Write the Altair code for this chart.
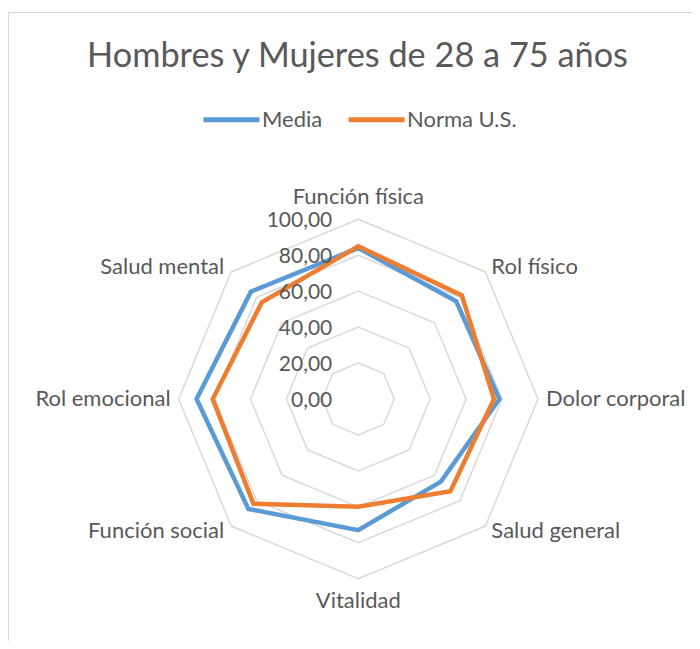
import altair as alt
import pandas as pd

# ---------------- data ----------------
title_text = "Hombres y Mujeres de 28 a 75 años"
categories = ["Función física", "Rol físico", "Dolor corporal", "Salud general",
              "Vitalidad", "Función social", "Rol emocional", "Salud mental"]
media = [84.0, 77.0, 78.5, 65.0, 73.0, 86.5, 90.0, 84.5]
norma = [85.0, 81.5, 75.5, 72.5, 60.0, 82.5, 81.0, 76.0]
series_names = ["Media", "Norma U.S."]
series_colors = ["#5B9BD5", "#ED7D31"]
ring_levels = [20, 40, 60, 80, 100]
tick_values = [0, 20, 40, 60, 80, 100]
tick_labels = ["0,00", "20,00", "40,00", "60,00", "80,00", "100,00"]

# ---------------- layout ----------------
PADL = 1
W, H = 683, 629          # plot area (view) size
CX, CY = 349.3, 387.0    # radar centre inside the view, px
U = 1.797                # px per value unit
FONT = "Lato"
FS = 22
TXT = "#595959"
GRID = "#D9D9D9"
N = len(categories)

x_dom = [-CX / U, (W - CX) / U]
y_dom = [-(H - CY) / U, CY / U]
xs = alt.Scale(domain=x_dom, nice=False, zero=False)
ys = alt.Scale(domain=y_dom, nice=False, zero=False)

series_df = pd.DataFrame(
    [{"series": s, "idx": i, "cat": c, "value": v}
     for s, vals in zip(series_names, [media, norma])
     for i, (c, v) in enumerate(zip(categories, vals))]
)
ring_df = pd.DataFrame([{"level": L, "idx": i} for L in ring_levels for i in range(N)])
tick_df = pd.DataFrame({"value": tick_values, "label": tick_labels})
cat_df = pd.DataFrame({"idx": list(range(N)), "cat": categories})
frame_df = pd.DataFrame({"k": [0]})

ang = f"datum.idx * 2 * PI / {N}"

# rings
rings = alt.Chart(ring_df).transform_calculate(
    a=ang
).transform_calculate(
    px="datum.level * sin(datum.a)", py="datum.level * cos(datum.a)"
).mark_line(interpolate="linear-closed", color=GRID, strokeWidth=1.5).encode(
    x=alt.X("px:Q", scale=xs, axis=None),
    y=alt.Y("py:Q", scale=ys, axis=None),
    detail="level:O",
    order="idx:Q",
)

color = alt.Color(
    "series:N",
    scale=alt.Scale(domain=series_names, range=series_colors),
    legend=alt.Legend(
        title=None, orient="none", legendX=192, legendY=77, direction="horizontal",
        symbolType="stroke", symbolSize=56 * 56, symbolStrokeWidth=5,
        labelFont=FONT, labelFontSize=FS, labelColor=TXT, labelOffset=0,
        columnPadding=15, padding=0,
    ),
)


def series_layer(name):
    return alt.Chart(series_df).transform_filter(
        alt.datum.series == name
    ).transform_calculate(
        a=ang
    ).transform_calculate(
        px="datum.value * sin(datum.a)", py="datum.value * cos(datum.a)"
    ).mark_line(interpolate="linear-closed", strokeWidth=4.5).encode(
        x=alt.X("px:Q", scale=xs, axis=None),
        y=alt.Y("py:Q", scale=ys, axis=None),
        color=color,
        order="idx:Q",
    )


ticks = alt.Chart(tick_df).transform_calculate(
    px="0", py="datum.value"
).mark_text(align="right", baseline="middle", dx=-26, dy=2, font=FONT,
            fontSize=21, color=TXT).encode(
    x=alt.X("px:Q", scale=xs, axis=None),
    y=alt.Y("py:Q", scale=ys, axis=None),
    text="label:N",
)


def cat_layer(idx_list, align, off_side, off_diag, off_tb):
    return alt.Chart(cat_df).transform_filter(
        alt.FieldOneOfPredicate(field="idx", oneOf=idx_list)
    ).transform_calculate(
        a=ang
    ).transform_calculate(
        s="sin(datum.a)", c="cos(datum.a)"
    ).transform_calculate(
        px=f"100 * datum.s + (abs(datum.s) < 0.1 ? 0 : (abs(datum.c) < 0.1 ? {off_side} : {off_diag}) * (datum.s > 0 ? 1 : -1)) / {U}",
        py=f"100 * datum.c + (abs(datum.c) < 0.1 ? 0 : (abs(datum.s) < 0.1 ? {off_tb} : 4.8) * (datum.c > 0 ? 1 : -1)) / {U}",
    ).mark_text(align=align, baseline="middle", font=FONT, fontSize=FS,
                color=TXT).encode(
        x=alt.X("px:Q", scale=xs, axis=None),
        y=alt.Y("py:Q", scale=ys, axis=None),
        text="cat:N",
    )


labels_r = cat_layer([1, 2, 3], "left", 8, 6, 22)
labels_l = cat_layer([5, 6, 7], "right", 8, 7, 22)
labels_c = cat_layer([0, 4], "center", 8, 6, 22)

frame_left = alt.Chart(frame_df).mark_rule(color=GRID, strokeWidth=1).encode(
    x=alt.value(-0.5), y=alt.value(0), y2=alt.value(H + 20)
)
frame_top = alt.Chart(frame_df).mark_rule(color=GRID, strokeWidth=1).encode(
    x=alt.value(-0.5), x2=alt.value(W + 20), y=alt.value(0.5)
)

chart = alt.layer(
    frame_left, frame_top, rings, series_layer("Media"), series_layer("Norma U.S."),
    ticks, labels_r, labels_l, labels_c,
).properties(
    width=W, height=H,
    autosize=alt.AutoSizeParams(type="none"),
    padding={"left": PADL, "top": 4, "right": 0, "bottom": 0},
    background="white",
    title=alt.TitleParams(
        text=title_text, font=FONT, fontSize=34.3, fontWeight="normal", color=TXT,
        anchor="middle", frame="group", offset=0, dx=7, dy=63,
    ),
).configure_view(stroke=None)

chart.save("out.html", embed_options={"renderer": "svg", "actions": False})
